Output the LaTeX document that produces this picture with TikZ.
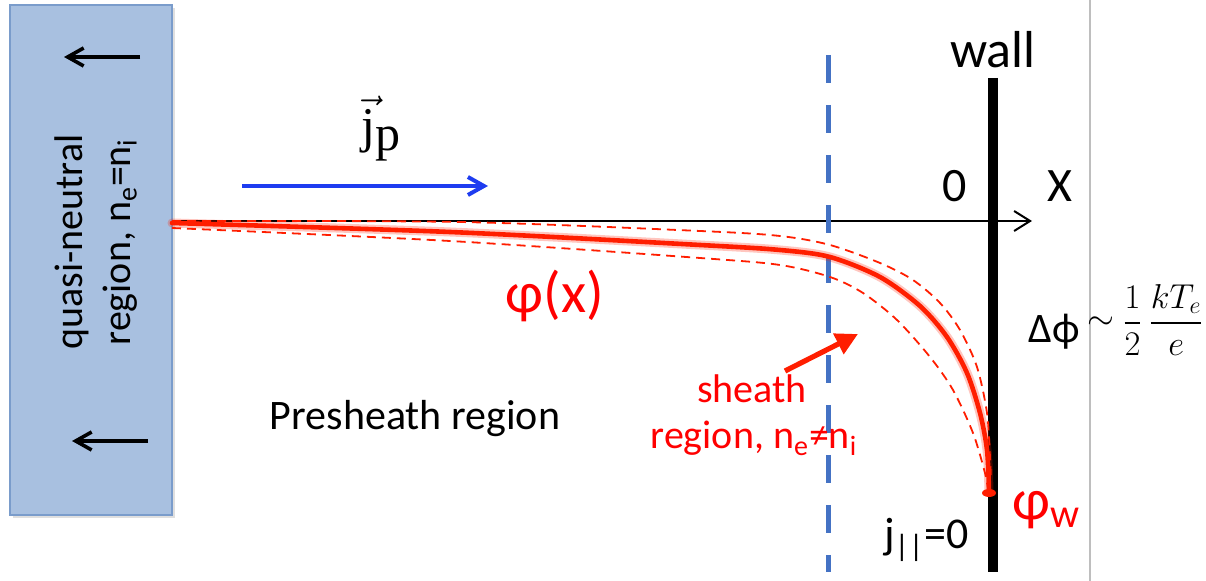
\documentclass[tikz,border=0pt]{standalone}
\usepackage{fontspec}
\usepackage{amsmath}
\setmainfont{Carlito}
\newfontfamily\serif{Liberation Serif}
\usetikzlibrary{arrows.meta,shadows}
\definecolor{boxfill}{RGB}{168,192,224}
\definecolor{boxline}{RGB}{122,156,203}
\definecolor{curvered}{RGB}{255,30,0}
\definecolor{textred}{RGB}{255,0,0}
\definecolor{dashblue}{RGB}{68,114,196}
\definecolor{arrowblue}{RGB}{30,60,240}
\definecolor{gridgray}{RGB}{190,190,190}
\newcommand{\fs}[1]{\fontsize{#1}{#1}\selectfont}
\tikzset{
  region/.style={draw=boxline, fill=boxfill, line width=1pt, inner sep=0pt,
    drop shadow={opacity=0.25, shadow xshift=1.5pt, shadow yshift=-1.5pt}},
  boxarrow/.style={line width=1.8pt, -{Straight Barb[length=8pt,width=9pt,line width=1.8pt]}},
  axisline/.style={line width=0.9pt, -{Straight Barb[length=8pt,width=10pt,line width=1pt]}},
  bluearrow/.style={arrowblue, line width=2pt, -{Straight Barb[length=8pt,width=9pt,line width=2pt]}},
  redarrow/.style={curvered, line width=2.6pt, -{Triangle[length=11pt,width=11pt]}},
  wallline/.style={line width=5pt},
  sheathline/.style={dashblue, line width=2.5pt, dash pattern=on 14pt off 11pt},
  potglow/.style={curvered, opacity=0.25, line width=4.5pt, line cap=round},
  pot/.style={curvered, line width=2.3pt, line cap=round},
  potband/.style={curvered, line width=0.9pt, dash pattern=on 4.5pt off 3pt},
  lbl/.style={inner sep=0pt, anchor=base},
  redlbl/.style={lbl, text=textred},
}
\begin{document}
\begin{tikzpicture}[x=0.5pt,y=-0.5pt]
\useasboundingbox (0,0) rectangle (1206,581);
\fill[white] (0,0) rectangle (1206,581);
\draw[gridgray, line width=0.7pt] (1090,0) -- (1090,581);

% quasi-neutral box
\node[region, minimum width=81pt, minimum height=255pt] (box) at (91,260) {};
\node[rotate=90, inner sep=0pt] (qn1) at (72,242) {\fs{20}quasi-neutral};
\node[rotate=90, inner sep=0pt] (qn2) at (120,242) {\fs{20}region, n\textsubscript{e}=n\textsubscript{i}};
\coordinate (ua1) at (140,57); \coordinate (ua2) at (64,57);
\coordinate (la1) at (148,441); \coordinate (la2) at (72,441);
\draw[boxarrow] (ua1) -- (ua2);
\draw[boxarrow] (la1) -- (la2);

% axis
\coordinate (ax0) at (172,221); \coordinate (ax1) at (1032,221);
\draw[axisline] (ax0) -- (ax1);
\node[lbl] (zero) at (955,202) {\fs{24}0};
\node[lbl] (xlab) at (1060,202) {\fs{24}X};

% sheath edge
\coordinate (sh0) at (828,55); \coordinate (sh1) at (828,572);
\draw[sheathline] (sh0) -- (sh1);

% wall
\coordinate (w0) at (993,78); \coordinate (w1) at (993,572);
\draw[wallline] (w0) -- (w1);
\node[lbl] (wall) at (993,68) {\fs{26}wall};

% current arrow
\coordinate (b0) at (242,186); \coordinate (b1) at (488,186);
\draw[bluearrow] (b0) -- (b1);
\node[lbl] (jp) at (381,143) {\serif\fs{25}$\vec{\text{j}}$\raisebox{-4pt}{p}};

% potential curves
\def\solidpts{(172,223) (450,232) (700,245) (780,250) (830,257) (880,277) (920,306) (947,337) (967,373) (980,413) (987,450) (989,491)}
\draw[potglow] plot[smooth, tension=0.5] coordinates {\solidpts};
\draw[pot] plot[smooth, tension=0.5] coordinates {\solidpts};
\draw[potband] plot[smooth, tension=0.5] coordinates {(172,221) (460,222) (700,231) (780,236) (830,245) (880,263) (913,280) (940,303) (960,330) (977,367) (987,413) (990,457) (991,480)};
\draw[potband] plot[smooth, tension=0.5] coordinates {(172,228) (450,241) (700,258) (780,265) (830,277) (863,293) (897,320) (930,357) (953,390) (973,433) (985,473) (988,490)};
\fill[curvered] (989,493) ellipse [x radius=7, y radius=4];

% labels
\node[redlbl] (phix) at (555,313) {\fs{29}φ(x)};
\node[redlbl, anchor=base west] (phiw) at (1012,520) {\fs{29}φ\textsubscript{w}};
\node[lbl] (pre) at (415,430) {\fs{21}Presheath region};
\node[redlbl] (sh1t) at (752,403) {\fs{20}sheath};
\node[redlbl] (sh2t) at (754,449) {\fs{20}region, n\textsubscript{e}≠n\textsubscript{i}};
\coordinate (ra0) at (785,371); \coordinate (ra1) at (858,334);
\draw[redarrow] (ra0) -- (ra1);
\node[lbl, anchor=base west] (jpar) at (884,549) {\fs{22}j\textsubscript{||}=0};
\node[lbl, anchor=base west] (dphi) at (1028,343) {\fs{21}Δϕ};
\node[inner sep=0pt] (tilde) at (1101,323) {\fs{19}$\sim$};
\node[inner sep=0pt] (frac) at (1163,320) {\fs{17}$\dfrac{1}{2}\,\dfrac{kT_e}{e}$};
\end{tikzpicture}
\end{document}
